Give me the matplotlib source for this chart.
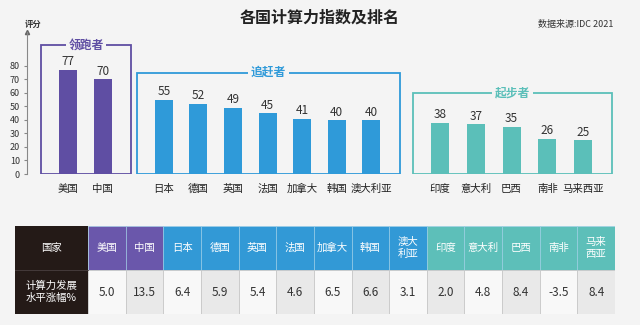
import numpy as np
import matplotlib.pyplot as plt
from matplotlib.patches import Rectangle

plt.rcParams['font.family'] = ['Noto Sans CJK SC', 'DejaVu Sans']

# data
countries = ['美国', '中国', '日本', '德国', '英国', '法国', '加拿大', '韩国', '澳大利亚',
             '印度', '意大利', '巴西', '南非', '马来西亚']
scores = [77, 70, 55, 52, 49, 45, 41, 40, 40, 38, 37, 35, 26, 25]
table_names = ['美国', '中国', '日本', '德国', '英国', '法国', '加拿大', '韩国', '澳大\n利亚',
               '印度', '意大利', '巴西', '南非', '马来\n西亚']
growth = [5.0, 13.5, 6.4, 5.9, 5.4, 4.6, 6.5, 6.6, 3.1, 2.0, 4.8, 8.4, -3.5, 8.4]
group_names = ['领跑者', '追赶者', '起步者']
group_sizes = [2, 7, 5]

BG = '#f4f4f4'
bar_colors = ['#5f4ea3', '#2f9ad9', '#5bbfb9']
head_colors = ['#6a57ab', '#3299d6', '#5dbfb9']

# bar positions, groups separated by a gap
starts = [0, 2.77, 10.75]
steps = [1.0, 1.0, 1.035]
x, grp = [], []
for g, (n, s0, st) in enumerate(zip(group_sizes, starts, steps)):
    for i in range(n):
        x.append(s0 + i * st)
        grp.append(g)
x = np.array(x)

W, H = 640, 325
def frac(l, t, r, b):
    return [l / W, 1 - b / H, (r - l) / W, (b - t) / H]

fig = plt.figure(figsize=(6.4, 3.25), dpi=100, facecolor=BG)

ax = fig.add_axes(frac(27, 32, 625, 174))
ax.set_facecolor(BG)
ax.set_ylim(0, 105)
ax.set_xlim(-1.185, 16.1)

bars = ax.bar(x, scores, width=0.52, color=[bar_colors[g] for g in grp], zorder=3)
ax.bar_label(bars, padding=1, fontsize=8.5, color='#333333')

# group boxes
i0 = 0
for g, n in enumerate(group_sizes):
    left = x[i0] - 0.78
    right = x[i0 + n - 1] + 0.82
    top = 0.91 * max(scores[i0:i0 + n]) + 25
    ax.add_patch(Rectangle((left, 0), right - left, top, fill=False,
                           ec=bar_colors[g], lw=1.3, zorder=2))
    ax.text((left + right) / 2, top, group_names[g], ha='center', va='center',
            fontsize=8.5, fontweight='bold', color=bar_colors[g], zorder=4,
            bbox=dict(fc=BG, ec='none', pad=2))
    i0 += n

ax.set_xticks(x)
ax.set_xticklabels(countries, fontsize=7.5, color='#222222')
ax.tick_params(axis='x', length=0, pad=7)
ax.set_yticks(range(0, 81, 10))
ax.tick_params(axis='y', labelsize=6.5, length=2, color='#888888', labelcolor='#333333', pad=3)
for s in ['top', 'right', 'bottom']:
    ax.spines[s].set_visible(False)
ax.spines['left'].set_color('#888888')
ax.spines['left'].set_linewidth(0.8)
ax.plot(0, 1, '^', color='#666666', ms=3, transform=ax.transAxes, clip_on=False)

fig.text(25 / W, 1 - 24 / H, '评分', ha='left', va='center', fontsize=6,
         fontweight='bold', color='#333333')
fig.text(0.5, 1 - 18 / H, '各国计算力指数及排名', ha='center', va='center',
         fontsize=11.5, fontweight='bold', color='#222222')
fig.text(613 / W, 1 - 25 / H, '数据来源:IDC 2021', ha='right', va='center',
         fontsize=6.5, color='#333333')

# table
tx = fig.add_axes(frac(15, 226, 615, 314))
tx.set_xlim(-1.94, 14)
tx.set_ylim(0, 2)
tx.axis('off')
DARK = '#241a17'
tx.add_patch(Rectangle((-1.94, 0), 1.94, 2, fc=DARK, ec='none'))
tx.plot([-1.94, 0], [1, 1], color='#4a4040', lw=0.6)
tx.text(-0.97, 1.5, '国家', ha='center', va='center', fontsize=7.5, color='white')
tx.text(-0.97, 0.5, '计算力发展\n水平涨幅%', ha='center', va='center', fontsize=7.5,
        color='white', linespacing=1.3)
for i, (name, val) in enumerate(zip(table_names, growth)):
    tx.add_patch(Rectangle((i, 1), 1, 1, fc=head_colors[grp[i]], ec='#9fd0e8', lw=0.4))
    tx.text(i + 0.5, 1.5, name, ha='center', va='center', fontsize=7.5,
            color='white', linespacing=1.3)
    fc = '#f8f8f8' if i % 2 == 0 else '#e9e9e9'
    tx.add_patch(Rectangle((i, 0), 1, 1, fc=fc, ec='#c8c8c8', lw=0.6))
    tx.text(i + 0.5, 0.5, f'{val:.1f}', ha='center', va='center', fontsize=8.5,
            color='#333333')

fig.savefig('out.png', dpi=100, facecolor=BG)
